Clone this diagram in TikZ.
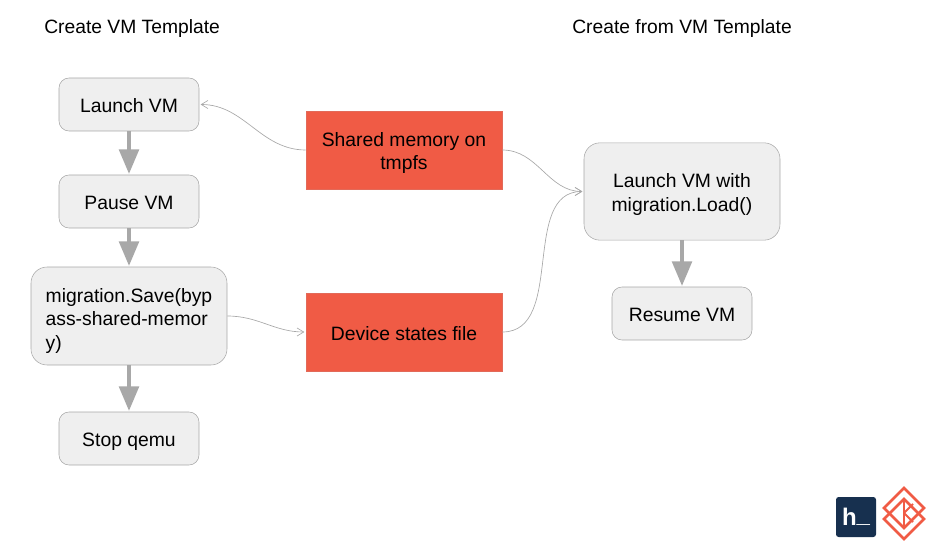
\documentclass[tikz,border=0pt]{standalone}
\usepackage{fontspec}
\setmainfont{Liberation Sans}
\usetikzlibrary{arrows.meta}
\definecolor{boxgray}{HTML}{EFEFEF}
\definecolor{linegray}{HTML}{A8A8A8}
\definecolor{redbox}{HTML}{F05B45}
\definecolor{navybox}{HTML}{17304F}
\tikzset{
  boxtext/.style={align=center, font=\fontsize{14.5}{17.3}\selectfont, inner sep=0pt, execute at begin node=\rule[-3pt]{0pt}{18pt}},
  twolines/.style={text width=140pt, align=flush center},
  threelines/.style={text width=125pt, align=left, execute at begin node=\rule[-3pt]{0pt}{21pt}},
  stepbox/.style={boxtext, draw=linegray, fill=boxgray, rounded corners=7.5pt},
  smallbox/.style={stepbox, minimum width=105pt, minimum height=39.75pt},
  redfile/.style={boxtext, draw=redbox!80!linegray, fill=redbox, minimum width=147pt, minimum height=58.5pt},
  title/.style={font=\fontsize{14.45}{17}\selectfont, anchor=west, inner sep=0pt},
  bigarrow/.style={draw=linegray, line width=3.3pt, -{Triangle[width=14.5pt,length=18.5pt]}, shorten >=0.5pt},
  thinarrow/.style={draw=linegray, line width=0.5pt, -{Straight Barb[length=5pt,width=6pt]}, shorten >=1pt},
  logoline/.style={draw=redbox, line width=2pt},
}
\begin{document}
\begin{tikzpicture}[x=0.75pt, y=-0.75pt]
  \useasboundingbox (0,0) rectangle (930,552);
  \node[title] (lefttitle) at (44, 29) {Create VM Template};
  \node[title] (righttitle) at (572, 29) {Create from VM Template};
  % left column
  \node[smallbox] (launch) at (129, 104.5) {Launch VM};
  \node[smallbox] (pause) at (129, 201.5) {Pause VM};
  \node[stepbox, threelines, rounded corners=12pt, minimum width=147pt, minimum height=73.5pt] (save) at (129, 316) {migration.Save(byp\\ass-shared-memor\\y)};
  \node[smallbox] (stop) at (129, 438.5) {Stop qemu};
  % middle
  \node[redfile, twolines] (shared) at (404, 150) {Shared memory on\\tmpfs};
  \node[redfile] (device) at (404, 332) {Device states file};
  % right column
  \node[stepbox, twolines, minimum width=147pt, minimum height=73pt, rounded corners=12pt] (load) at (682, 191.5) {Launch VM with\\migration.Load()};
  \node[smallbox] (resume) at (682, 313.5) {Resume VM};
  \draw[bigarrow] (launch) -- (pause);
  \draw[bigarrow] (pause) -- (save);
  \draw[bigarrow] (save) -- (stop);
  \draw[bigarrow] (load) -- (resume);
  \draw[thinarrow] (shared.west) to[out=180, in=0] (launch.east);
  \draw[thinarrow] (shared.east) to[out=0, in=180] (load.west);
  \draw[thinarrow] (device.east) to[out=0, in=180] (load.west);
  \draw[thinarrow] (save.east) to[out=0, in=180] (device.west);
  % logos
  \node[fill=navybox, rounded corners=2pt, minimum size=30pt, inner sep=0pt, text=white, font=\fontsize{18}{18}\selectfont\bfseries] (hlogo) at (856, 517) {h\raisebox{2.5pt}{\_}};
  \draw[logoline] (904,488) -- (924,508) -- (904,528) -- (884,508) -- cycle;
  \draw[logoline] (904,499) -- (924,519) -- (904,539) -- (884,519) -- cycle;
  \draw[logoline, line width=1.4pt] (904,499) -- (904,528) (904,513) -- (913,504) (904,513) -- (913,522);
\end{tikzpicture}
\end{document}
